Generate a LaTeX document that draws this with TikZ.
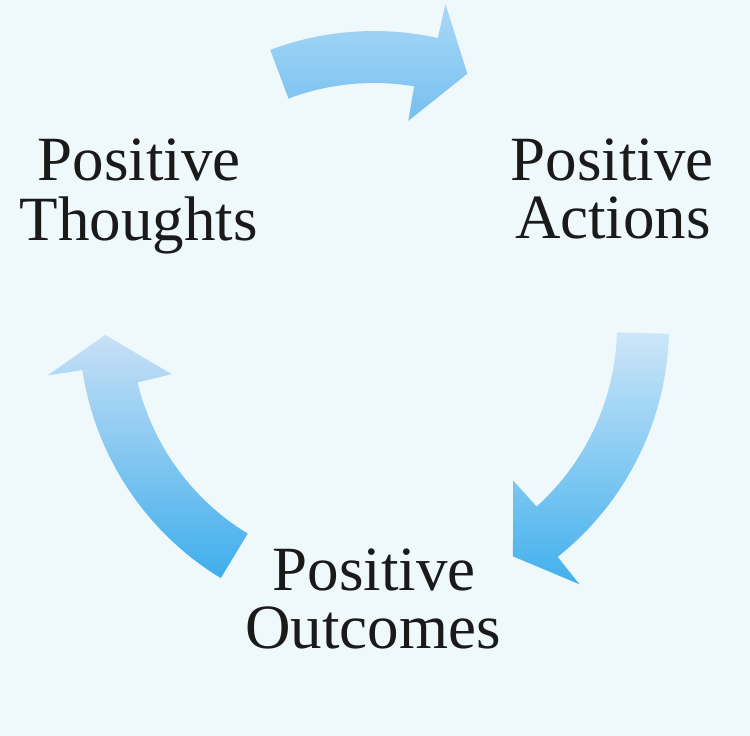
\documentclass[tikz,border=0pt]{standalone}
\usepackage{fontspec}
\setmainfont{Liberation Serif}
\definecolor{bg}{HTML}{EFF9FC}
\definecolor{txt}{HTML}{1A1A1A}
\tikzset{
  lbl/.style={anchor=base, inner sep=0pt, text=txt, font=\fontsize{63}{60}\selectfont},
  arrowshape/.style={draw=none}
}
% #1 tail angle, #2 outer base, #3 inner base, #4 tip angle
\newcommand{\cyclearrow}[4]{%
  (#1:295) arc[start angle=#1, end angle=#2, radius=295]
  -- (#2:330) -- (#4:269) -- (#3:208) -- (#3:243)
  arc[start angle=#3, end angle=#1, radius=243] -- cycle}
\begin{document}
\begin{tikzpicture}[x=1pt,y=-1pt]
\fill[bg] (0,0) rectangle (750,736);
\useasboundingbox (0,0) rectangle (750,736);
\begin{scope}[shift={(374,326)}, x=1pt, y=1pt]
  \path[arrowshape, top color={rgb,255:red,170;green,216;blue,246}, bottom color={rgb,255:red,118;green,192;blue,240}]
    \cyclearrow{110.6}{77.5}{80.5}{69.7};
  \path[arrowshape, top color={rgb,255:red,205;green,230;blue,248}, bottom color={rgb,255:red,66;green,176;blue,237}]
    \cyclearrow{-1.5}{-51.5}{-48}{-58.9};
  \path[arrowshape, top color={rgb,255:red,200;green,224;blue,246}, bottom color={rgb,255:red,62;green,174;blue,236}]
    \cyclearrow{238.7}{188.6}{193.4}{181.9};
\end{scope}
\node[lbl] (t1) at (139,180) {Positive};
\node[lbl] (t2) at (139,240) {Thoughts};
\node[lbl] (a1) at (612,180) {Positive};
\node[lbl] (a2) at (613,238) {Actions};
\node[lbl] (o1) at (374,590) {Positive};
\node[lbl] (o2) at (373,648) {Outcomes};
\end{tikzpicture}
\end{document}
